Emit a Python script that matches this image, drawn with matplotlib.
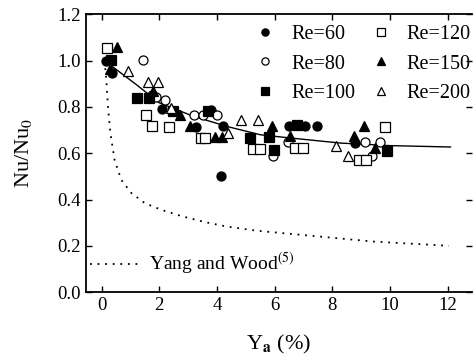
import matplotlib
matplotlib.use("Agg")
import matplotlib.pyplot as plt

plt.rcParams['font.family'] = ['Liberation Serif', 'DejaVu Serif']
plt.rcParams['mathtext.fontset'] = 'stix'

# ---- data ----
re60_x = [0.15, 0.37, 1.75, 2.11, 3.27, 3.81, 4.2, 4.14, 6.5, 7.04, 7.47, 8.8]
re60_y = [1.0, 0.948, 0.85, 0.792, 0.714, 0.789, 0.719, 0.503, 0.716, 0.716, 0.716, 0.644]

re80_x = [1.44, 1.9, 2.19, 3.21, 3.52, 3.99, 5.96, 6.48, 9.15, 9.38, 9.67]
re80_y = [1.005, 0.844, 0.829, 0.767, 0.767, 0.767, 0.586, 0.649, 0.649, 0.589, 0.649]

re100_x = [0.34, 1.24, 1.65, 2.46, 3.7, 5.15, 5.82, 5.99, 6.79, 9.9]
re100_y = [1.005, 0.839, 0.839, 0.781, 0.781, 0.666, 0.67, 0.615, 0.724, 0.608]

re120_x = [0.2, 1.53, 1.73, 2.33, 3.45, 3.6, 5.26, 5.5, 6.71, 6.97, 8.92, 9.18, 9.84]
re120_y = [1.056, 0.767, 0.719, 0.714, 0.666, 0.666, 0.618, 0.618, 0.623, 0.623, 0.569, 0.569, 0.712]

re150_x = [0.53, 0.28, 1.79, 2.71, 3.06, 3.93, 4.16, 5.92, 6.52, 8.74, 9.11, 9.47]
re150_y = [1.06, 0.965, 0.871, 0.767, 0.719, 0.67, 0.67, 0.716, 0.676, 0.676, 0.719, 0.623]

re200_x = [0.92, 1.61, 1.94, 2.42, 4.39, 4.83, 5.42, 8.13, 8.53]
re200_y = [0.955, 0.907, 0.907, 0.796, 0.688, 0.745, 0.745, 0.633, 0.586]

fit_x = [0.1, 1.2, 2.0, 3.18, 4.34, 5.5, 6.54, 8.28, 10.0, 12.1]
fit_y = [1.0, 0.897, 0.818, 0.76, 0.716, 0.68, 0.666, 0.644, 0.633, 0.627]

yw_x = [0.1, 0.16, 0.22, 0.3, 0.45, 0.68, 1.03, 1.5, 2.08, 2.83, 3.6, 4.34, 5.38, 7.12, 9.44, 12.05]
yw_y = [1.0, 0.92, 0.80, 0.69, 0.57, 0.485, 0.428, 0.384, 0.355, 0.326, 0.302, 0.283, 0.265, 0.245, 0.218, 0.2]

x_ticks = [0, 2, 4, 6, 8, 10, 12]
y_ticks = [0.0, 0.2, 0.4, 0.6, 0.8, 1.0, 1.2]

fig = plt.figure(figsize=(4.74, 3.61), dpi=100)
ax = fig.add_axes([0.181, 0.191, 0.815, 0.769])

ms = 6.5
ax.plot(fit_x, fit_y, '-', color='black', lw=1.0, zorder=2)
yw_line, = ax.plot(yw_x, yw_y, color='black', lw=1.3, zorder=2,
                   dashes=(1, 3.2))

series = [
    (re60_x, re60_y, 'o', True, 'Re=60'),
    (re80_x, re80_y, 'o', False, 'Re=80'),
    (re100_x, re100_y, 's', True, 'Re=100'),
    (re120_x, re120_y, 's', False, 'Re=120'),
    (re150_x, re150_y, '^', True, 'Re=150'),
    (re200_x, re200_y, '^', False, 'Re=200'),
]
handles = []
for xs, ys, m, filled, lab in series:
    h, = ax.plot(xs, ys, linestyle='none', marker=m, markersize=ms,
                 markerfacecolor='black' if filled else 'white',
                 markeredgecolor='black', markeredgewidth=0.9, label=lab, zorder=3)
    handles.append(h)

leg1 = ax.legend(handles=handles, ncol=2, loc='upper right', frameon=False,
                 fontsize=14.5, handletextpad=0.55, columnspacing=0.5,
                 labelspacing=0.5, borderaxespad=0.0, handlelength=1.5,
                 markerscale=0.8, bbox_to_anchor=(1.018, 0.99))
ax.add_artist(leg1)

leg2 = ax.legend([yw_line], ['Yang and Wood$^{(5)}$'], loc='lower left',
                 frameon=False, fontsize=14, handlelength=2.6, handletextpad=0.45,
                 borderaxespad=0.0, bbox_to_anchor=(-0.01, 0.025))

ax.set_xlim(-0.55, 12.85)
ax.set_ylim(0, 1.2)
ax.set_xticks(x_ticks)
ax.set_yticks(y_ticks)
ax.set_yticklabels([f'{v:.1f}' for v in y_ticks])
ax.tick_params(direction='in', labelsize=13.5, length=4, width=1,
               top=True, right=True)
ax.spines['right'].set_visible(False)
for s in ['left', 'bottom', 'top']:
    ax.spines[s].set_linewidth(1.3)

ax.set_xlabel('Y$_{\\mathbf{a}}$ (%)', fontsize=16, labelpad=14)
ax.set_ylabel('Nu/Nu$_0$', fontsize=16, labelpad=17)

fig.savefig('out.png', dpi=100)
